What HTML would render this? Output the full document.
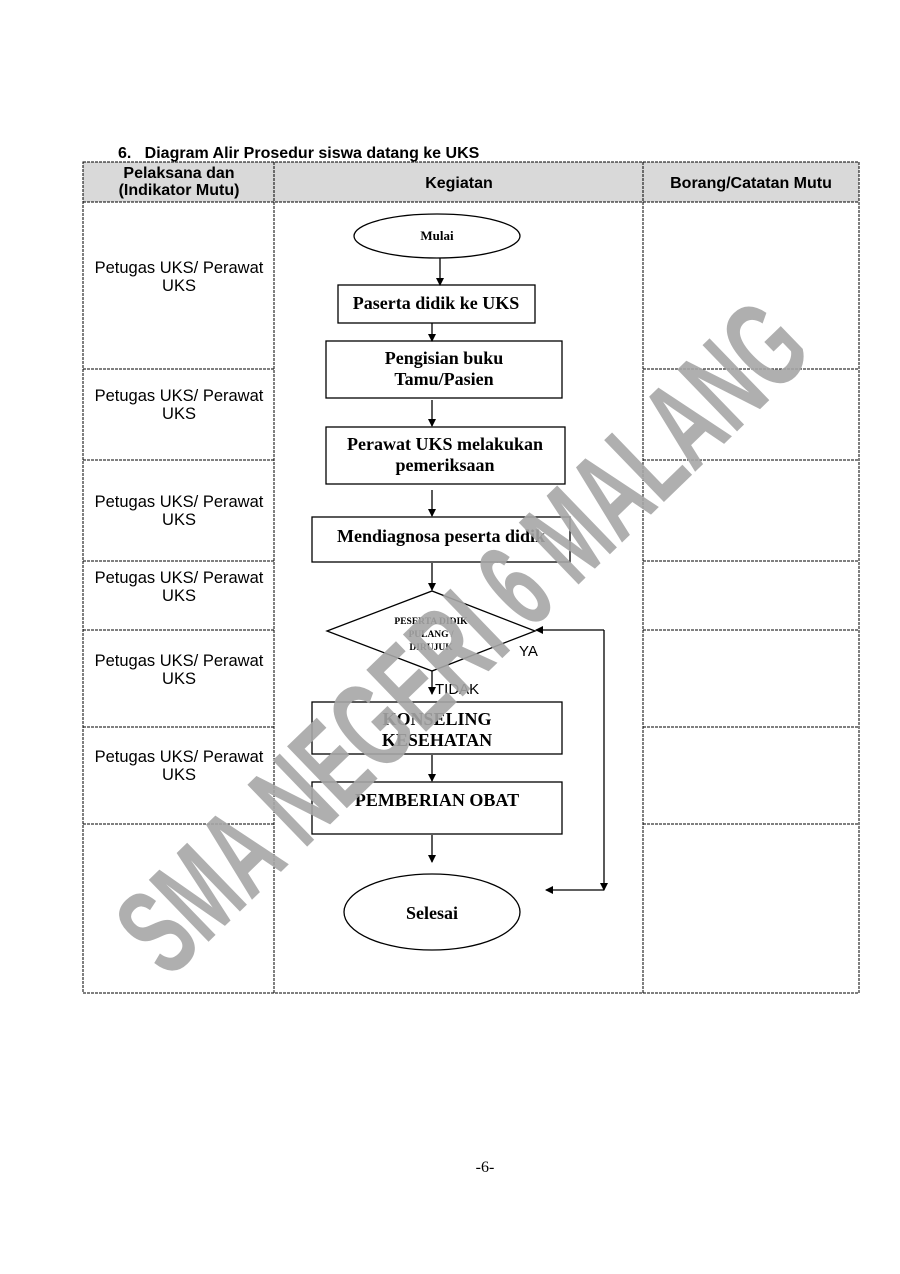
<!DOCTYPE html>
<html><head><meta charset="utf-8"><style>
html,body{margin:0;padding:0;background:#fff;}
svg{display:block;}
.s{font-family:"Liberation Sans",sans-serif;}
.r{font-family:"Liberation Serif",serif;font-weight:bold;}
</style></head><body>
<svg width="900" height="1274" viewBox="0 0 900 1274" xmlns="http://www.w3.org/2000/svg">
<defs><marker id="a" markerWidth="8" markerHeight="8" refX="7" refY="4" orient="auto" markerUnits="userSpaceOnUse"><path d="M0,0 L8,4 L0,8 z" fill="#000"/></marker></defs>
<text x="118" y="158" class="s" font-size="16" font-weight="bold">6.&#160;&#160;&#160;Diagram Alir Prosedur siswa datang ke UKS</text>
<rect x="83" y="162" width="776" height="40" fill="#d9d9d9"/>
<g stroke="#000" stroke-width="1" stroke-dasharray="3,1" fill="none">
<rect x="83" y="162" width="776" height="831"/>
<line x1="274" y1="162" x2="274" y2="993"/>
<line x1="643" y1="162" x2="643" y2="993"/>
<line x1="83" y1="202" x2="859" y2="202"/>
<line x1="83" y1="369" x2="274" y2="369"/><line x1="643" y1="369" x2="859" y2="369"/>
<line x1="83" y1="460" x2="274" y2="460"/><line x1="643" y1="460" x2="859" y2="460"/>
<line x1="83" y1="561" x2="274" y2="561"/><line x1="643" y1="561" x2="859" y2="561"/>
<line x1="83" y1="630" x2="274" y2="630"/><line x1="643" y1="630" x2="859" y2="630"/>
<line x1="83" y1="727" x2="274" y2="727"/><line x1="643" y1="727" x2="859" y2="727"/>
<line x1="83" y1="824" x2="274" y2="824"/><line x1="643" y1="824" x2="859" y2="824"/>
</g>
<g class="s" font-size="16" font-weight="bold" text-anchor="middle">
<text x="179" y="178">Pelaksana dan</text><text x="179" y="195">(Indikator Mutu)</text>
<text x="459" y="188">Kegiatan</text>
<text x="751" y="188">Borang/Catatan Mutu</text>
</g>
<g class="s" font-size="16.5" text-anchor="middle">
<text x="179" y="273">Petugas UKS/ Perawat</text><text x="179" y="291">UKS</text>
<text x="179" y="401">Petugas UKS/ Perawat</text><text x="179" y="419">UKS</text>
<text x="179" y="507">Petugas UKS/ Perawat</text><text x="179" y="525">UKS</text>
<text x="179" y="583">Petugas UKS/ Perawat</text><text x="179" y="601">UKS</text>
<text x="179" y="666">Petugas UKS/ Perawat</text><text x="179" y="684">UKS</text>
<text x="179" y="762">Petugas UKS/ Perawat</text><text x="179" y="780">UKS</text>
</g>
<g stroke="#000" stroke-width="1.3" fill="#fff">
<ellipse cx="437" cy="236" rx="83" ry="22"/>
<rect x="338" y="285" width="197" height="38"/>
<rect x="326" y="341" width="236" height="57"/>
<rect x="326" y="427" width="239" height="57"/>
<rect x="312" y="517" width="258" height="45"/>
<polygon points="327,631 432,591 535,631 432,671"/>
<rect x="312" y="702" width="250" height="52"/>
<rect x="312" y="782" width="250" height="52"/>
<ellipse cx="432" cy="912" rx="88" ry="38"/>
</g>
<g stroke="#000" stroke-width="1.3" fill="none" marker-end="url(#a)">
<line x1="440" y1="258" x2="440" y2="285"/>
<line x1="432" y1="323" x2="432" y2="341"/>
<line x1="432" y1="400" x2="432" y2="426"/>
<line x1="432" y1="490" x2="432" y2="516"/>
<line x1="432" y1="563" x2="432" y2="590"/>
<line x1="432" y1="671" x2="432" y2="694"/>
<line x1="432" y1="755" x2="432" y2="781"/>
<line x1="432" y1="835" x2="432" y2="862"/>
<polyline points="604,630 604,890"/>
<line x1="604" y1="630" x2="536" y2="630"/>
<line x1="604" y1="890" x2="546" y2="890"/>
</g>
<g class="r" text-anchor="middle" fill="#000">
<text x="437" y="240" font-size="13">Mulai</text>
<text x="436" y="309" font-size="18">Paserta didik ke UKS</text>
<text x="444" y="364" font-size="18">Pengisian buku</text>
<text x="444" y="385" font-size="18">Tamu/Pasien</text>
<text x="445" y="450" font-size="18">Perawat UKS melakukan</text>
<text x="445" y="471" font-size="18">pemeriksaan</text>
<text x="441" y="542" font-size="18">Mendiagnosa peserta didik</text>
<text x="431" y="624" font-size="9.5">PESERTA DIDIK</text>
<text x="431" y="637" font-size="9.5">PULANG /</text>
<text x="431" y="650" font-size="9.5">DIRUJUK</text>
<text x="437" y="725" font-size="18">KONSELING</text>
<text x="437" y="746" font-size="18">KESEHATAN</text>
<text x="437" y="806" font-size="18">PEMBERIAN OBAT</text>
<text x="432" y="919" font-size="18">Selesai</text>
</g>
<text x="519" y="656" class="s" font-size="15">YA</text>
<text x="435" y="694" class="s" font-size="15">TIDAK</text>
<text x="485" y="1172" font-family="Liberation Serif,serif" font-size="16" text-anchor="middle">-6-</text>
<text x="0" y="0" transform="translate(492,668) rotate(-44)" class="s" font-size="125" font-weight="bold" fill="#a6a6a6" fill-opacity="0.9" text-anchor="middle" textLength="900" lengthAdjust="spacingAndGlyphs">SMA NEGERI 6 MALANG</text>
</svg>
</body></html>
